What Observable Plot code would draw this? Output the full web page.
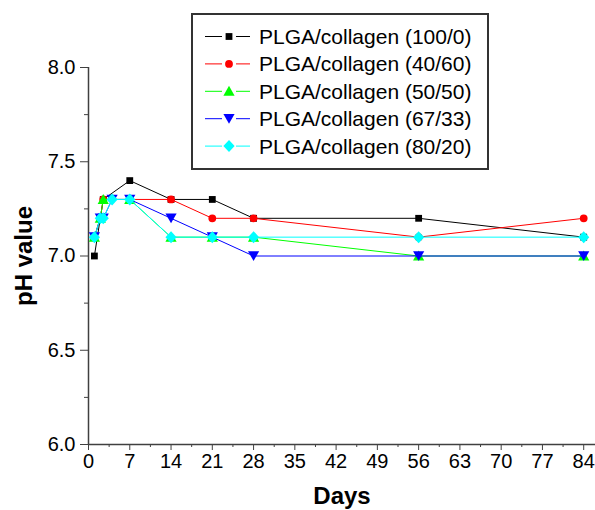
<!DOCTYPE html>
<html>
<head>
<meta charset="utf-8">
<script src="https://cdn.jsdelivr.net/npm/d3@7"></script>
<script src="https://cdn.jsdelivr.net/npm/@observablehq/plot@0.6"></script>
<style>
  html, body { margin: 0; padding: 0; background: white; }
  #chart { width: 595px; height: 510px; }
</style>
</head>
<body>
<div id="chart"></div>
<script>
// ---- data ----
const seriesNames = [
  "PLGA/collagen (100/0)",
  "PLGA/collagen (40/60)",
  "PLGA/collagen (50/50)",
  "PLGA/collagen (67/33)",
  "PLGA/collagen (80/20)"
];
const seriesColors = ["#000000", "#ff0000", "#00ff00", "#0000ff", "#00ffff"];

const days_100_0 = [1, 2.5, 7, 14, 21, 28, 56, 84];
const ph_100_0   = [7.0, 7.3, 7.4, 7.3, 7.3, 7.2, 7.2, 7.1];

const days_40_60 = [1, 2, 2.5, 7, 14, 21, 28, 56, 84];
const ph_40_60   = [7.1, 7.2, 7.3, 7.3, 7.3, 7.2, 7.2, 7.1, 7.2];

const days_50_50 = [1, 2, 2.5, 7, 14, 21, 28, 56, 84];
const ph_50_50   = [7.1, 7.2, 7.3, 7.3, 7.1, 7.1, 7.1, 7.0, 7.0];

const days_67_33 = [1, 2, 2.5, 4, 7, 14, 21, 28, 56, 84];
const ph_67_33   = [7.1, 7.2, 7.2, 7.3, 7.3, 7.2, 7.1, 7.0, 7.0, 7.0];

const days_80_20 = [1, 2, 2.5, 4, 7, 14, 21, 28, 56, 84];
const ph_80_20   = [7.1, 7.2, 7.2, 7.3, 7.3, 7.1, 7.1, 7.1, 7.1, 7.1];

const xTickValues = [0, 7, 14, 21, 28, 35, 42, 49, 56, 63, 70, 77, 84];
const xMinorTicks = [3.5, 10.5, 17.5, 24.5, 31.5, 38.5, 45.5, 52.5, 59.5, 66.5, 73.5, 80.5];
const yTickValues = [6.0, 6.5, 7.0, 7.5, 8.0];
const yMinorTicks = [6.25, 6.75, 7.25, 7.75];

const xLabel = "Days";
const yLabel = "pH value";

// ---- marker shapes ----
const symSquare = { draw(ctx) { const h = 3.4; ctx.rect(-h, -h, 2 * h, 2 * h); } };
const symCircle = { draw(ctx) { ctx.moveTo(3.9, 0); ctx.arc(0, 0, 3.9, 0, 2 * Math.PI); } };
const symTriUp = { draw(ctx) { ctx.moveTo(0, -5.5); ctx.lineTo(5.6, 4.5); ctx.lineTo(-5.6, 4.5); ctx.closePath(); } };
const symTriDown = { draw(ctx) { ctx.moveTo(0, 5); ctx.lineTo(5.6, -4.8); ctx.lineTo(-5.6, -4.8); ctx.closePath(); } };
const symDiamond = { draw(ctx) { ctx.moveTo(0, -6); ctx.lineTo(5.6, 0); ctx.lineTo(0, 6); ctx.lineTo(-5.6, 0); ctx.closePath(); } };
const seriesSymbols = [symSquare, symCircle, symTriUp, symTriDown, symDiamond];

const seriesDays = [days_100_0, days_40_60, days_50_50, days_67_33, days_80_20];
const seriesPh = [ph_100_0, ph_40_60, ph_50_50, ph_67_33, ph_80_20];

const tables = seriesNames.map((name, i) =>
  seriesDays[i].map((d, j) => ({ series: name, day: d, ph: seriesPh[i][j] }))
);

const axisColor = "#404040";
const font = "'Liberation Sans', Arial, sans-serif";

const seriesMarks = tables.flatMap((t, i) => [
  Plot.line(t, { x: "day", y: "ph", stroke: seriesColors[i], strokeWidth: 1 }),
  Plot.dot(t, { x: "day", y: "ph", symbol: seriesSymbols[i], fill: seriesColors[i], stroke: "none", r: 4 })
]);

const chart = Plot.plot({
  width: 595,
  height: 510,
  marginLeft: 88,
  marginRight: 0,
  marginTop: 67,
  marginBottom: 66,
  style: { fontFamily: font, background: "white", color: "black" },
  x: { domain: [0, 86] },
  y: { domain: [6, 8] },
  marks: [
    Plot.axisX({ ticks: xTickValues, tickSize: 6, tickPadding: 3, fontSize: 20, stroke: axisColor, fill: "black", tickFormat: d => String(d), label: null }),
    Plot.axisX({ ticks: xMinorTicks, tickSize: 3, tickFormat: () => "", stroke: axisColor, label: null }),
    Plot.axisY({ ticks: yTickValues, tickSize: 8, tickPadding: 5, fontSize: 20, stroke: axisColor, fill: "black", tickFormat: d3.format(".1f"), label: null }),
    Plot.axisY({ ticks: yMinorTicks, tickSize: 4, tickFormat: () => "", stroke: axisColor, label: null }),
    Plot.ruleY([6], { stroke: axisColor, strokeWidth: 1.5 }),
    Plot.ruleX([0], { stroke: axisColor, strokeWidth: 1.5 }),
    ...seriesMarks,
    Plot.text([xLabel], { frameAnchor: "bottom", lineAnchor: "middle", textAnchor: "middle", dy: 52, fontSize: 24, fontWeight: "bold", fill: "black" }),
    Plot.text([yLabel], { frameAnchor: "left", lineAnchor: "middle", textAnchor: "middle", rotate: -90, dx: -64, fontSize: 24, fontWeight: "bold", fill: "black" })
  ]
});

document.getElementById("chart").appendChild(chart);

// ---- legend (boxed, inside the plot area) ----
const svg = d3.select(chart);
const lg = svg.append("g").attr("class", "legend").attr("text-anchor", "start");
lg.append("rect")
  .attr("x", 192).attr("y", 14).attr("width", 296).attr("height", 155)
  .attr("fill", "white").attr("stroke", "#333").attr("stroke-width", 2);
seriesNames.forEach((name, i) => {
  const cy = 36.5 + i * 27.4;
  const row = lg.append("g");
  row.append("line").attr("x1", 205).attr("x2", 222).attr("y1", cy).attr("y2", cy)
    .attr("stroke", seriesColors[i]).attr("stroke-width", 1);
  row.append("line").attr("x1", 236).attr("x2", 250).attr("y1", cy).attr("y2", cy)
    .attr("stroke", seriesColors[i]).attr("stroke-width", 1);
  const p = d3.path();
  seriesSymbols[i].draw(p, 0);
  row.append("path").attr("d", p.toString()).attr("transform", `translate(229,${cy})`)
    .attr("fill", seriesColors[i]);
  row.append("text").attr("x", 259).attr("y", cy + 7.5)
    .attr("text-anchor", "start")
    .attr("font-family", font).attr("font-size", 21).attr("fill", "black")
    .text(name);
});
</script>
</body>
</html>
